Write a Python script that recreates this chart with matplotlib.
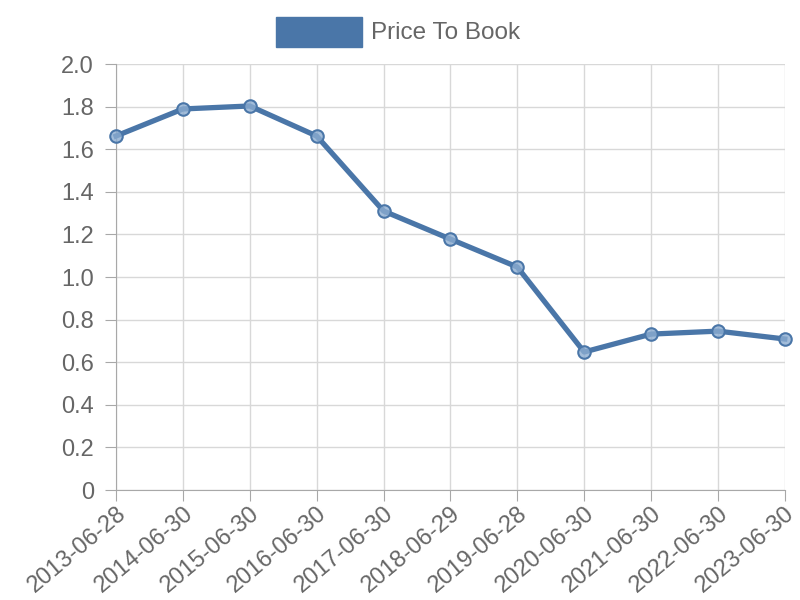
import matplotlib.pyplot as plt
from matplotlib.patches import Rectangle

dates = ['2013-06-28', '2014-06-30', '2015-06-30', '2016-06-30', '2017-06-30',
         '2018-06-29', '2019-06-28', '2020-06-30', '2021-06-30', '2022-06-30',
         '2023-06-30']
price_to_book = [1.662, 1.789, 1.803, 1.662, 1.310, 1.178, 1.047, 0.648,
                 0.732, 0.746, 0.709]
y_ticks = [0, 0.2, 0.4, 0.6, 0.8, 1.0, 1.2, 1.4, 1.6, 1.8, 2.0]
y_labels = ['0', '0.2', '0.4', '0.6', '0.8', '1.0', '1.2', '1.4', '1.6', '1.8', '2.0']

plt.rcParams['font.family'] = ['Liberation Sans', 'DejaVu Sans']
line_color = '#4a76a8'
text_color = '#666666'

fig = plt.figure(figsize=(8, 6), dpi=100)
ax = fig.add_axes([0.145, 0.1833, 0.836, 0.71])

x = list(range(len(dates)))
ax.plot(x, price_to_book, color=line_color, lw=3.8, zorder=3,
        marker='o', ms=9, mfc=(0.55, 0.68, 0.82, 0.8), mec=line_color, mew=1.5,
        clip_on=False)

ax.set_xlim(0, len(dates) - 1)
ax.set_ylim(0, 2.0)
ax.set_yticks(y_ticks)
ax.set_yticklabels(y_labels)
ax.set_xticks(x)
ax.set_xticklabels(dates, rotation=40, ha='right', rotation_mode='anchor')

ax.grid(True, color='#d8d8d8', lw=1)
ax.set_axisbelow(True)
for s in ['top', 'right']:
    ax.spines[s].set_visible(False)
for s in ['left', 'bottom']:
    ax.spines[s].set_color('#a8a8a8')
ax.tick_params(axis='both', colors='#a8a8a8', labelcolor=text_color,
               labelsize=17, length=8)
ax.tick_params(axis='y', pad=8)
ax.tick_params(axis='x', pad=1)

# legend
fig.patches.append(Rectangle((276 / 800, 1 - 47 / 600), 86 / 800, 30 / 600,
                             transform=fig.transFigure, facecolor=line_color,
                             edgecolor=line_color, lw=1))
fig.text(371 / 800, 1 - 33 / 600, 'Price To Book', color=text_color,
         fontsize=17.5, va='center', ha='left')

fig.savefig('out.png', dpi=100)
